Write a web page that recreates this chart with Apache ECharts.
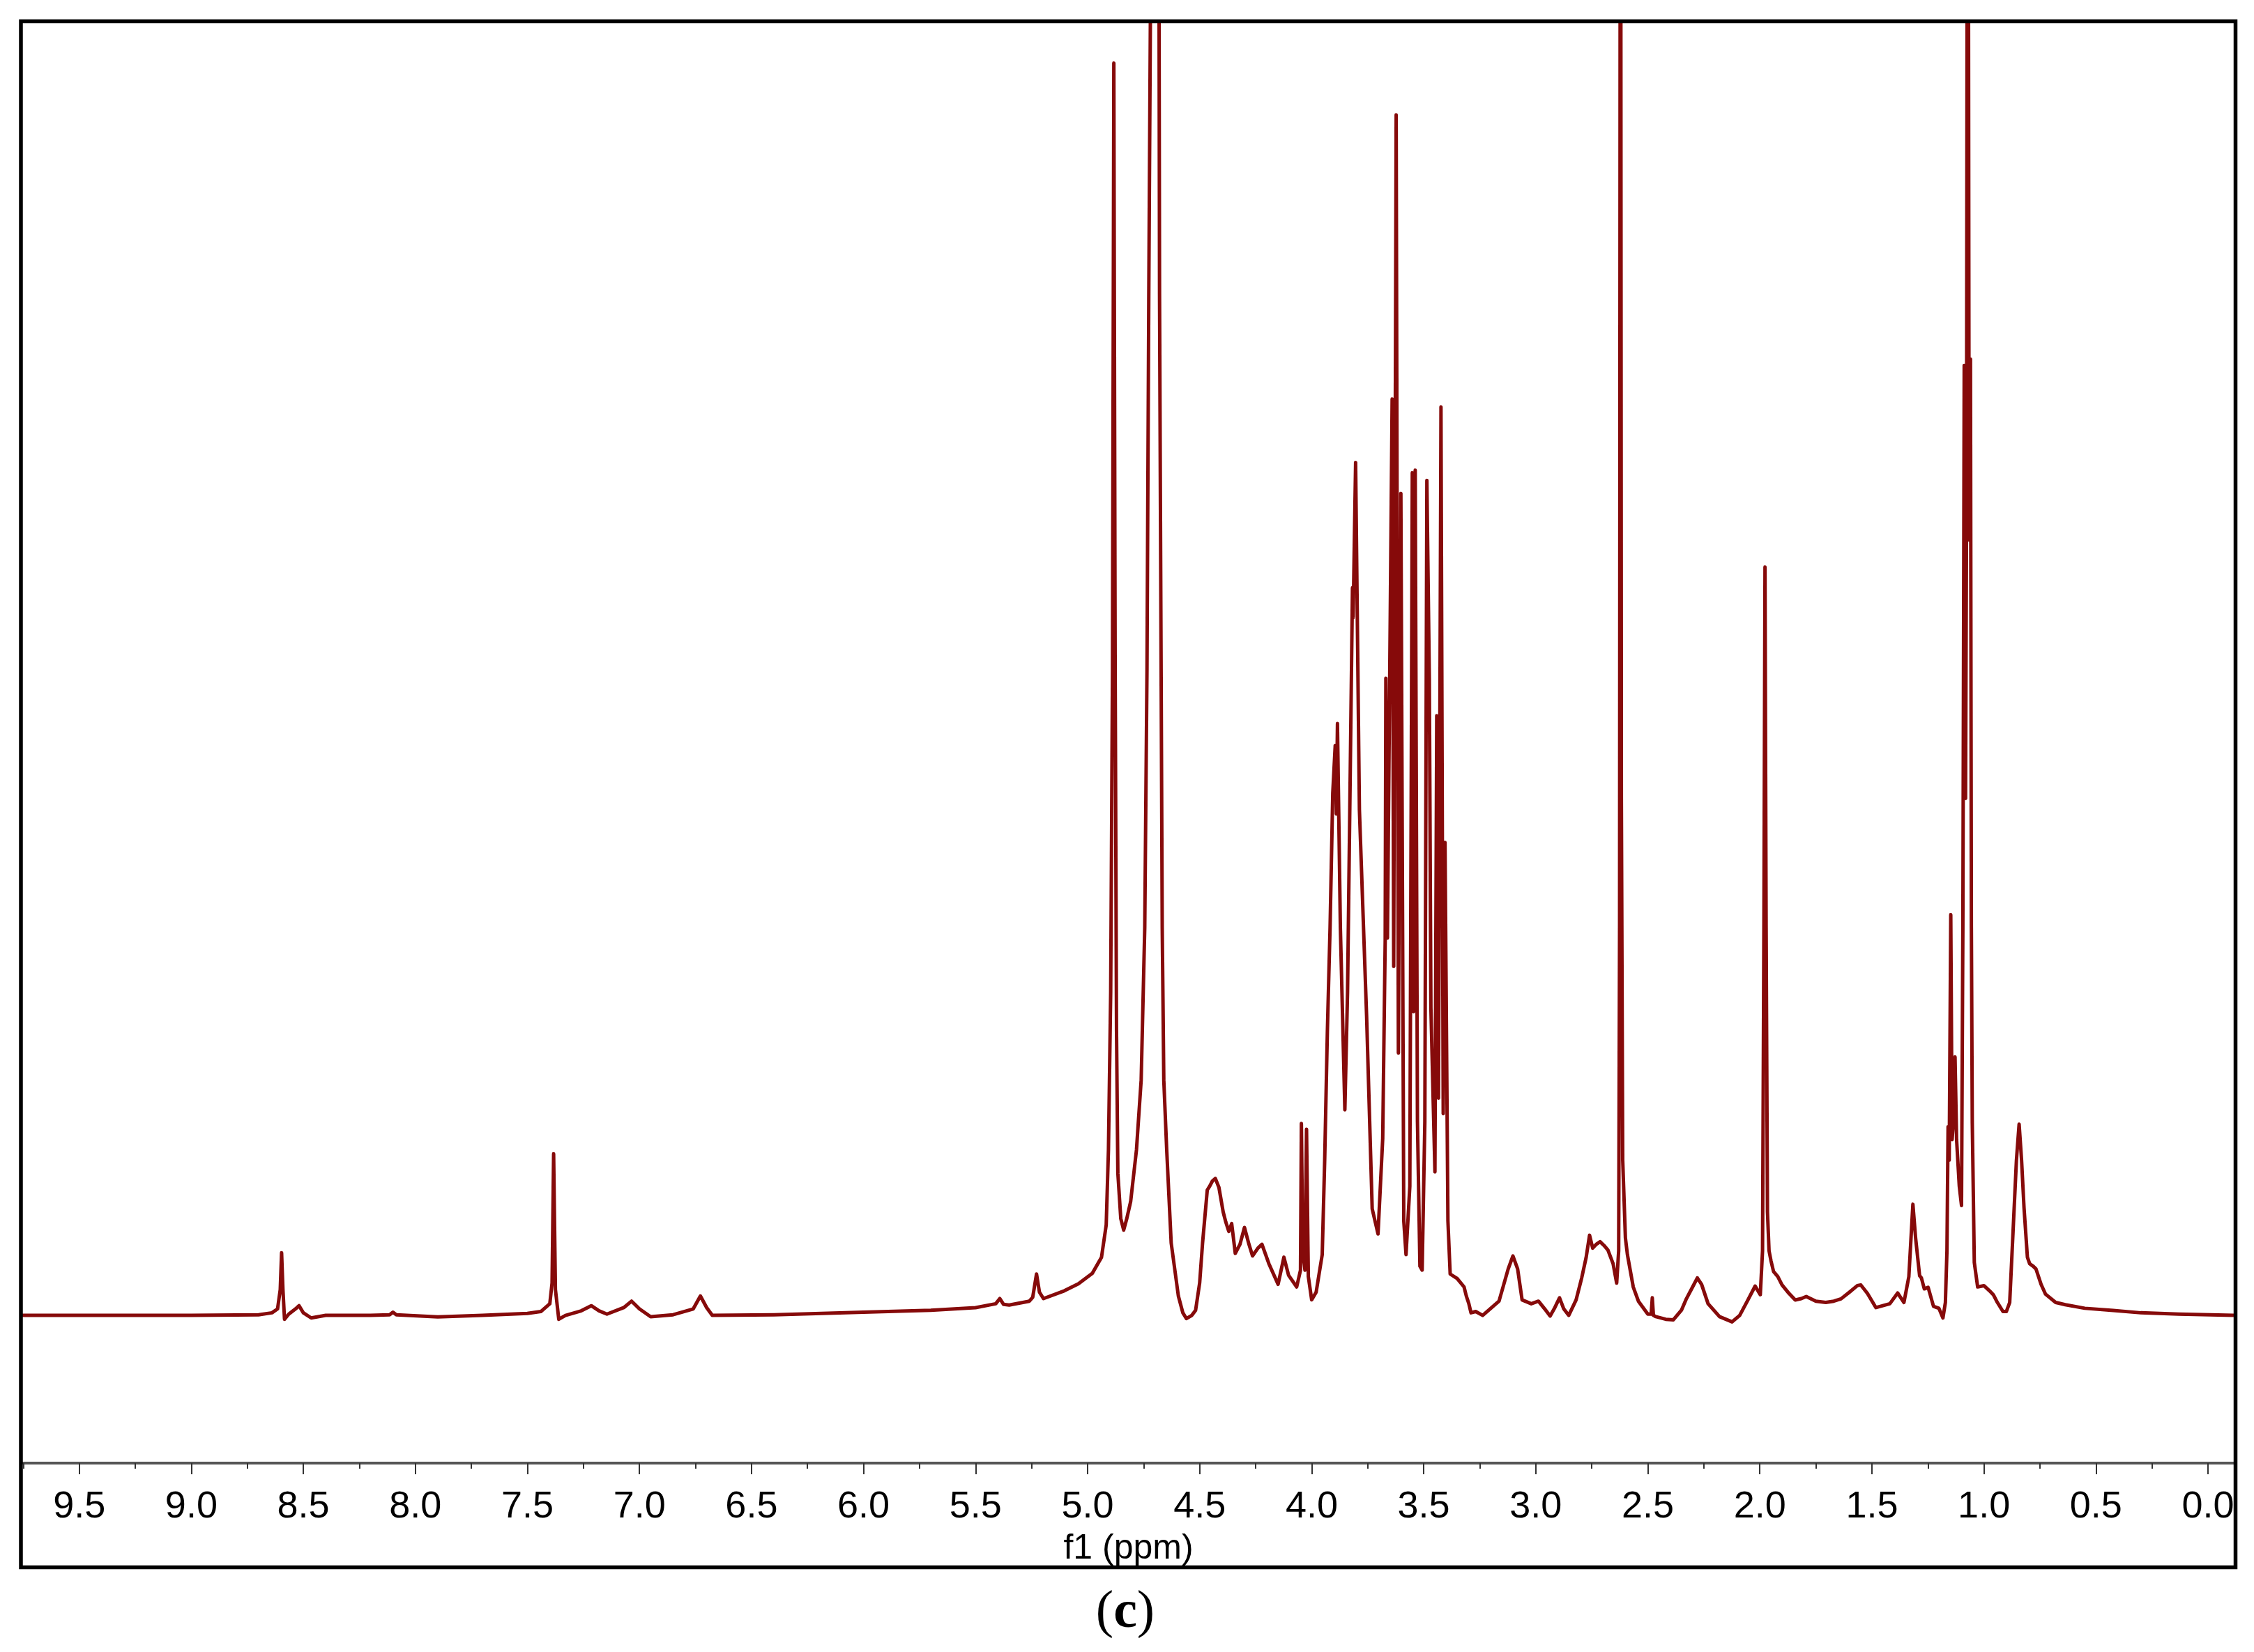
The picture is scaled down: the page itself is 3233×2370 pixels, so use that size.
<!DOCTYPE html>
<html>
<head>
<meta charset="utf-8">
<script src="https://cdn.jsdelivr.net/npm/echarts@6/dist/echarts.min.js"></script>
<style>
html,body{margin:0;padding:0;background:#fff;}
#chart{width:3233px;height:2370px;}
</style>
</head>
<body>
<div id="chart"></div>
<script>
// ---- data: chemical shift (ppm) vs. relative intensity ----
const majorTicks = [9.5, 9.0, 8.5, 8.0, 7.5, 7.0, 6.5, 6.0, 5.5, 5.0, 4.5, 4.0, 3.5, 3.0, 2.5, 2.0, 1.5, 1.0, 0.5, 0.0];
const minorTicks = [9.75, 9.25, 8.75, 8.25, 7.75, 7.25, 6.75, 6.25, 5.75, 5.25, 4.75, 4.25, 3.75, 3.25, 2.75, 2.25, 1.75, 1.25, 0.75, 0.25];

const aromaticRegion = [
  [9.76, 0.0], [9.0, 0.0], [8.70, 0.05], [8.64, 0.2], [8.615, 0.5], [8.603, 2.0], [8.597, 4.85],
  [8.591, 2.0], [8.584, -0.3], [8.565, 0.1], [8.535, 0.5], [8.519, 0.75], [8.50, 0.2], [8.465, -0.2],
  [8.40, 0.0], [8.20, 0.0], [8.115, 0.05], [8.10, 0.25], [8.085, 0.05], [7.90, -0.12], [7.70, 0.0],
  [7.50, 0.15], [7.44, 0.3], [7.40, 0.9], [7.390, 2.5], [7.383, 12.5], [7.375, 2.0], [7.36, -0.3],
  [7.33, 0.0], [7.26, 0.35], [7.215, 0.75], [7.18, 0.35], [7.145, 0.1], [7.07, 0.6], [7.035, 1.1],
  [7.00, 0.5], [6.95, -0.1], [6.85, 0.05], [6.76, 0.5], [6.728, 1.5], [6.70, 0.6], [6.675, 0.0],
  [6.40, 0.05], [6.00, 0.25], [5.70, 0.4], [5.50, 0.6]
];

const anomericRegion = [
  [5.41, 0.9], [5.392, 1.3], [5.375, 0.85], [5.35, 0.8], [5.26, 1.1], [5.245, 1.4], [5.228, 3.2],
  [5.215, 1.8], [5.197, 1.3], [5.104, 1.9], [5.041, 2.45], [4.979, 3.25], [4.938, 4.5], [4.917, 7.0],
  [4.907, 12.8], [4.897, 25], [4.889, 50], [4.883, 96.9], [4.877, 50], [4.871, 22], [4.865, 11],
  [4.852, 7.5], [4.839, 6.6], [4.825, 7.5], [4.808, 8.8], [4.782, 12.8], [4.761, 18.2], [4.745, 30],
  [4.735, 50], [4.727, 79], [4.720, 100], [4.701, 180], [4.681, 100], [4.679, 79], [4.672, 50],
  [4.667, 30], [4.660, 18.2], [4.647, 12.8], [4.627, 5.6], [4.595, 1.5], [4.575, 0.2], [4.559, -0.25],
  [4.535, 0.0], [4.518, 0.4], [4.50, 2.5], [4.487, 5.6], [4.466, 9.7], [4.455, 10.0], [4.443, 10.4],
  [4.43, 10.6], [4.414, 9.9], [4.395, 8.0], [4.383, 7.2], [4.370, 6.5], [4.357, 7.1], [4.341, 4.8],
  [4.32, 5.5], [4.30, 6.8], [4.28, 5.5], [4.264, 4.6], [4.24, 5.2], [4.222, 5.5], [4.191, 4.0],
  [4.15, 2.4], [4.124, 4.5], [4.103, 3.1], [4.067, 2.2], [4.05, 3.5], [4.046, 14.85], [4.040, 5.0],
  [4.030, 3.5], [4.023, 14.4], [4.015, 3.0], [4.000, 1.2], [3.98, 1.8]
];

const sugarRegion = [
  [3.953, 4.7], [3.942, 12], [3.930, 22], [3.918, 30], [3.906, 40.4], [3.895, 44.1], [3.890, 38.8],
  [3.885, 45.8], [3.872, 30], [3.852, 15.9], [3.840, 25], [3.830, 39.1], [3.818, 56.3], [3.815, 54],
  [3.804, 66.0], [3.787, 39.1], [3.755, 23.2], [3.730, 8.25], [3.704, 6.3], [3.683, 13.7], [3.672, 29],
  [3.669, 49.3], [3.662, 29.2], [3.641, 70.9], [3.634, 27.0], [3.623, 92.9], [3.613, 20.3], [3.602, 63.6],
  [3.589, 7.3], [3.579, 4.7], [3.562, 10], [3.551, 65.2], [3.545, 23.5], [3.538, 65.4], [3.528, 15],
  [3.517, 3.8], [3.507, 3.5], [3.495, 15], [3.486, 64.6], [3.475, 49.3], [3.468, 23.8], [3.450, 11.1],
  [3.442, 46.4], [3.434, 16.8], [3.423, 70.3], [3.413, 15.6], [3.405, 36.6], [3.392, 7.3], [3.382, 3.2],
  [3.351, 2.86], [3.320, 2.2], [3.310, 1.5], [3.299, 0.93], [3.289, 0.2], [3.268, 0.3], [3.237, 0.0]
];

const aliphaticRegion = [
  [3.164, 1.1], [3.123, 3.6], [3.102, 4.6], [3.081, 3.6], [3.061, 1.2], [3.02, 0.9], [2.988, 1.1],
  [2.96, 0.5], [2.936, -0.05], [2.915, 0.6], [2.894, 1.36], [2.875, 0.5], [2.853, 0.0], [2.82, 1.2],
  [2.795, 2.9], [2.775, 4.5], [2.760, 6.2], [2.746, 5.2], [2.730, 5.5], [2.713, 5.7], [2.695, 5.4],
  [2.678, 5.05], [2.655, 4.0], [2.639, 2.5], [2.630, 5], [2.626, 30], [2.622, 150], [2.618, 40],
  [2.612, 12], [2.60, 6], [2.591, 4.7], [2.565, 2.2], [2.542, 1.1], [2.50, 0.1], [2.485, 0.1],
  [2.480, 1.36], [2.475, 0.0], [2.464, -0.1], [2.42, -0.3], [2.386, -0.34], [2.35, 0.4], [2.328, 1.28],
  [2.30, 2.2], [2.279, 2.9], [2.26, 2.4], [2.231, 0.9], [2.18, -0.1], [2.124, -0.5], [2.09, 0.0],
  [2.056, 1.1], [2.021, 2.27], [2.005, 1.8], [1.998, 1.6], [1.988, 5], [1.982, 30], [1.977, 57.9],
  [1.972, 30], [1.966, 8], [1.959, 5.0], [1.950, 4.2], [1.939, 3.4], [1.920, 3.0], [1.901, 2.36],
  [1.87, 1.7], [1.842, 1.19], [1.815, 1.3], [1.793, 1.46], [1.75, 1.1], [1.706, 1.0], [1.67, 1.1],
  [1.638, 1.28], [1.60, 1.8], [1.565, 2.3], [1.550, 2.36], [1.52, 1.7], [1.482, 0.6], [1.42, 0.9],
  [1.385, 1.73], [1.357, 1.0], [1.335, 3.0], [1.317, 8.6], [1.305, 6.0], [1.287, 3.07], [1.279, 2.9],
  [1.266, 2.05], [1.249, 2.17], [1.225, 0.7], [1.201, 0.55], [1.183, -0.2]
];

const methylRegion = [
  [1.172, 1.0], [1.165, 5.0], [1.160, 14.6], [1.155, 12], [1.148, 31.0], [1.142, 13.6], [1.136, 15],
  [1.129, 20.0], [1.122, 13.6], [1.110, 10], [1.100, 8.5], [1.094, 30], [1.088, 73.5], [1.082, 40],
  [1.078, 60], [1.072, 150], [1.066, 60], [1.060, 74], [1.056, 30], [1.052, 14.9], [1.043, 4.1],
  [1.028, 2.2], [1.0, 2.3], [0.975, 1.9], [0.958, 1.6], [0.94, 1.0], [0.915, 0.3], [0.900, 0.3],
  [0.885, 1.0], [0.870, 6.5], [0.855, 12], [0.843, 14.8], [0.832, 12], [0.821, 8.3], [0.806, 4.5],
  [0.796, 4.0], [0.78, 3.8], [0.768, 3.6], [0.745, 2.4], [0.725, 1.64], [0.68, 1.0], [0.637, 0.83],
  [0.55, 0.55], [0.423, 0.38], [0.30, 0.2], [0.131, 0.1], [-0.115, 0.0]
];

const spectrum = [].concat(aromaticRegion, anomericRegion, sugarRegion, aliphaticRegion, methylRegion);

const chart = echarts.init(document.getElementById('chart'), null, {renderer: 'canvas'});
const sans = "'Liberation Sans', Arial, Helvetica, sans-serif";
const serif = "'Liberation Serif', 'Times New Roman', serif";

chart.setOption({
  backgroundColor: '#ffffff',
  animation: false,
  grid: {left: 33, right: 29, top: 33, bottom: 271, containLabel: false},
  xAxis: [
    {
      type: 'value', inverse: true, min: -0.115, max: 9.751, position: 'bottom',
      axisLine: {show: true, onZero: false, lineStyle: {color: '#555555', width: 4}},
      axisTick: {show: true, customValues: majorTicks, length: 16, inside: false, lineStyle: {color: '#333333', width: 2}},
      axisLabel: {show: true, customValues: majorTicks, margin: 36, fontSize: 54, color: '#000', fontFamily: sans,
        formatter: v => Number(v).toFixed(1)},
      splitLine: {show: false},
      name: 'f1 (ppm)', nameLocation: 'middle', nameGap: 98,
      nameTextStyle: {fontSize: 50, color: '#000', fontFamily: sans}
    },
    {
      type: 'value', inverse: true, min: -0.115, max: 9.751, position: 'bottom', offset: 0,
      axisLine: {show: false, onZero: false},
      axisTick: {show: true, customValues: minorTicks, length: 8, inside: false, lineStyle: {color: '#333333', width: 2}},
      axisLabel: {show: false},
      splitLine: {show: false}
    }
  ],
  yAxis: {
    type: 'value', min: -11.43, max: 100, show: false, splitLine: {show: false}
  },
  series: [{
    type: 'line', xAxisIndex: 0, data: spectrum, showSymbol: false, symbol: 'none',
    clip: true, smooth: false,
    lineStyle: {color: '#860a0a', width: 5, join: 'round'}
  }],
  graphic: [
    {type: 'rect', shape: {x: 30, y: 30.5, width: 3176.5, height: 2218}, style: {fill: 'none', stroke: '#000', lineWidth: 5.5}, z: 100},
    {type: 'text', x: 1614, y: 2314, style: {
      text: '{p|(}{b|c}{p|)}', align: 'center', verticalAlign: 'middle',
      rich: {
        p: {fontSize: 76, fontFamily: serif, fill: '#000'},
        b: {fontSize: 76, fontFamily: serif, fontWeight: 'bold', fill: '#000'}
      }
    }, z: 100}
  ]
});
</script>
</body>
</html>
